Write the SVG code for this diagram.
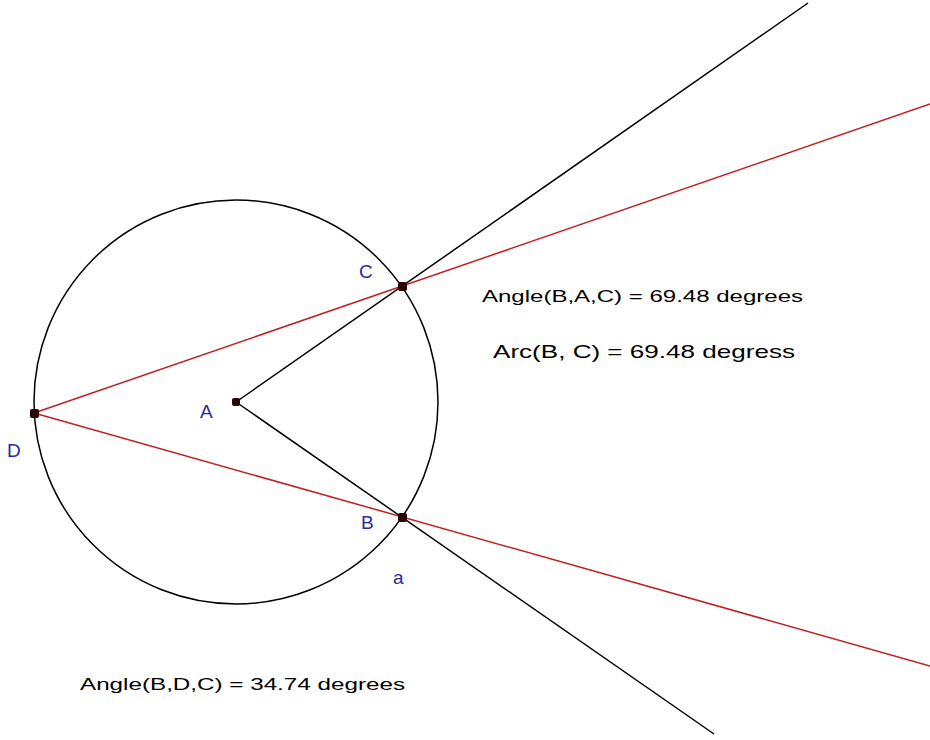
<svg xmlns="http://www.w3.org/2000/svg" width="930" height="740" viewBox="0 0 930 740">
<style>
.blk{stroke:#000;stroke-width:1.5;fill:none}
.red{stroke:#c02020;stroke-width:1.5;fill:none}
.pt{fill:#2a0505}
.lbl{font-family:"Liberation Sans",Arial,sans-serif;font-size:19px;fill:#2a2aa0}
.txt{font-family:"Liberation Sans",Arial,sans-serif;fill:#000}
</style>
<rect width="930" height="740" fill="#fff"/>
<g id="connectors">
<circle class="blk" cx="236" cy="402" r="202"/>
<line class="blk" x1="236" y1="402" x2="808" y2="3"/>
<line class="blk" x1="236" y1="402" x2="714" y2="734"/>
<line class="red" x1="34" y1="413" x2="930" y2="104"/>
<line class="red" x1="34" y1="413" x2="930" y2="666"/>
</g>
<g id="A"><rect class="pt" x="232" y="398" width="8" height="8" rx="2"/><text class="lbl" x="200" y="418">A</text></g>
<g id="B"><rect class="pt" x="398" y="513" width="9" height="9" rx="2"/><text class="lbl" x="361" y="529">B</text></g>
<g id="C"><rect class="pt" x="398" y="282" width="9" height="9" rx="2"/><text class="lbl" x="359" y="278">C</text></g>
<g id="D"><rect class="pt" x="30" y="409" width="9" height="9" rx="2"/><text class="lbl" x="7" y="457">D</text></g>
<g id="a"><text class="lbl" x="393" y="584">a</text></g>
<g id="t1"><text class="txt" x="482" y="302" font-size="16" textLength="321" lengthAdjust="spacingAndGlyphs">Angle(B,A,C) = 69.48 degrees</text></g>
<g id="t2"><text class="txt" x="493" y="358" font-size="19" textLength="302" lengthAdjust="spacingAndGlyphs">Arc(B, C) = 69.48 degress</text></g>
<g id="t3"><text class="txt" x="80" y="690" font-size="16" textLength="325" lengthAdjust="spacingAndGlyphs">Angle(B,D,C) = 34.74 degrees</text></g>
</svg>
